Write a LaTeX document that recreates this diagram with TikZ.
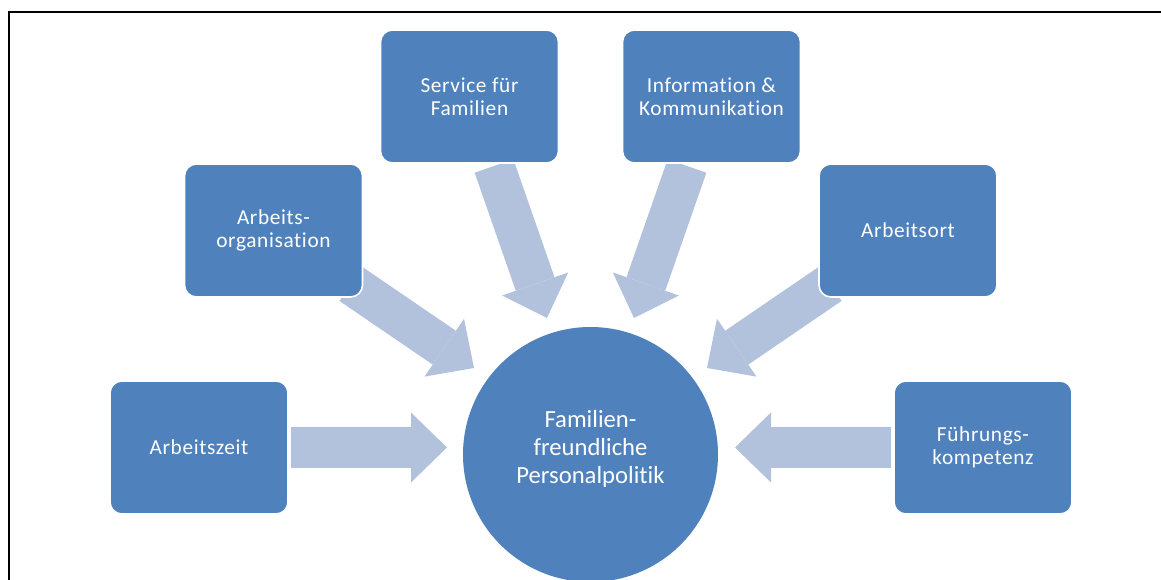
\documentclass[tikz,border=0pt]{standalone}
\usepackage{fontspec}
\setmainfont[RawFeature={-liga;-clig;-calt}]{Carlito}
\newfontfamily\boxfont[LetterSpace=3,RawFeature={-liga;-clig;-calt}]{Carlito}
\usetikzlibrary{arrows.meta}

\definecolor{boxblue}{HTML}{4F81BD}
\definecolor{flowblue}{HTML}{B2C1DC}

\begin{document}
\begin{tikzpicture}[x=0.75pt,y=-0.75pt,
  topic/.style={draw=white, line width=1.2pt, fill=boxblue,
    rounded corners=9pt, minimum width=133.5pt, minimum height=99.75pt,
    text=white, align=center,
    font=\boxfont\fontsize{16}{17}\selectfont},
  hub/.style={circle, fill=boxblue, minimum size=191.25pt, inner sep=0pt},
  hubtext/.style={text=white, align=center,
    font=\fontsize{18.5}{21}\selectfont},
  flow/.style={draw=flowblue, line width=30.75pt,
    -{Triangle[length=27pt, width=52.5pt, line width=0pt, fill=flowblue]}}]
  \useasboundingbox (0,0) rectangle (1161,580);

  % frame
  \draw[line width=1.5pt]
    (9,582)
    --
    (9,12)
    --
    (1163,12);

  % arrows towards the centre
  \coordinate (zeit-s) at (291,447.5);
  \coordinate (zeit-t) at (447,447.5);
  \coordinate (org-s) at (351,284);
  \coordinate (org-t) at (474,368);
  \coordinate (svc-s) at (494,166);
  \coordinate (svc-t) at (547,318);
  \coordinate (info-s) at (687,166);
  \coordinate (info-t) at (634,318);
  \coordinate (ort-s) at (830,284);
  \coordinate (ort-t) at (707,368);
  \coordinate (fuehr-s) at (891,447.5);
  \coordinate (fuehr-t) at (735,447.5);
  \draw[flow] (zeit-s) -- (zeit-t);
  \draw[flow] (org-s) -- (org-t);
  \draw[flow] (svc-s) -- (svc-t);
  \draw[flow] (info-s) -- (info-t);
  \draw[flow] (ort-s) -- (ort-t);
  \draw[flow] (fuehr-s) -- (fuehr-t);

  % topics
  \node[topic] (zeit) at (199,447.5) {Arbeitszeit};
  \node[topic] (org) at (273.5,230.5) {Arbeits-\\organisation};
  \node[topic] (svc) at (469.5,96.5) {Service für\\Familien};
  \node[topic] (info) at (711.5,96.5) {Information \&\\Kommunikation};
  \node[topic] (ort) at (908,230.5) {Arbeitsort};
  \node[topic] (fuehr) at (983,447.5) {Führungs-\\kompetenz};

  % centre
  \node[hub] (fam) at (590.5,454.5) {};
  \node[hubtext] (famtext) at (590.5,449) {Familien-\\freundliche\\Personalpolitik};
\end{tikzpicture}
\end{document}
